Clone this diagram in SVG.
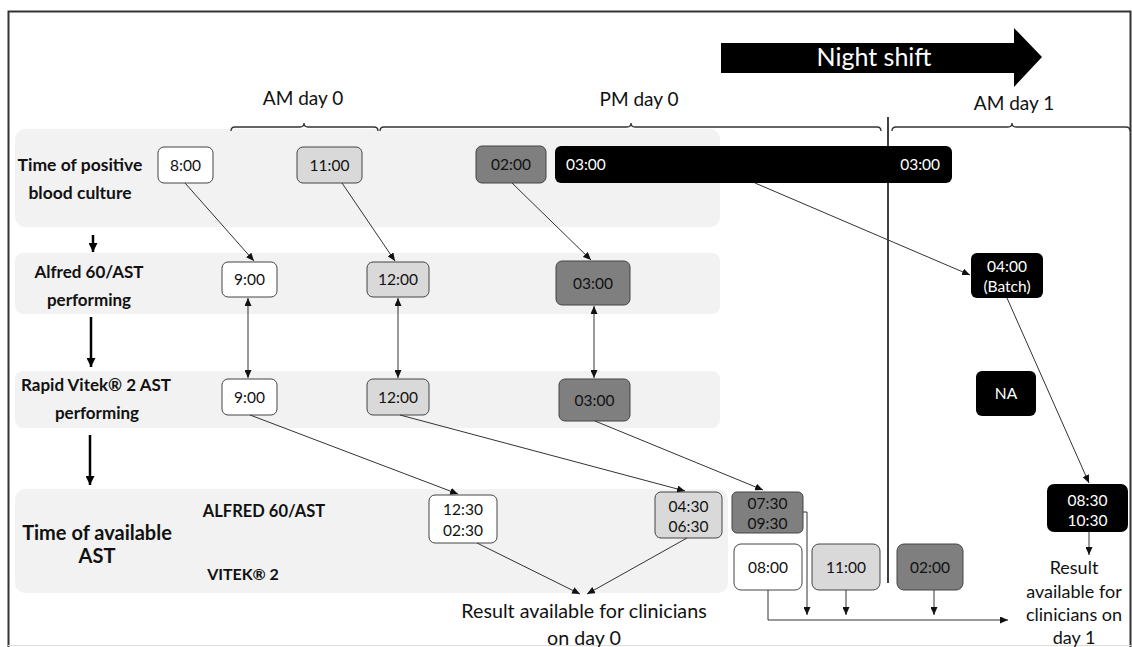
<svg xmlns="http://www.w3.org/2000/svg" width="1132" height="647" viewBox="0 0 1132 647">
<defs>
<style>
.band{fill:#f2f2f2}
.bw{fill:#fff;stroke:#444;stroke-width:1}
.bl{fill:#d9d9d9;stroke:#444;stroke-width:1}
.bd{fill:#7f7f7f;stroke:#444;stroke-width:1}
.bk{fill:#000}
.t{font-family:Lato,"Liberation Sans",sans-serif;font-size:15.5px;text-anchor:middle;fill:#111}
.tw{font-family:Lato,"Liberation Sans",sans-serif;font-size:15.5px;text-anchor:middle;fill:#fff}
.lab{font-family:Lato,"Liberation Sans",sans-serif;font-size:17px;font-weight:bold;text-anchor:middle;fill:#111}
.big{font-family:Lato,"Liberation Sans",sans-serif;font-size:19px;text-anchor:middle;fill:#111}
.res{font-family:Lato,"Liberation Sans",sans-serif;font-size:18px;text-anchor:middle;fill:#111}
.c{fill:none;stroke:#333;stroke-width:1}
.thick{fill:none;stroke:#000;stroke-width:2.5}
.brk{fill:none;stroke:#333;stroke-width:1.3}
</style>
<marker id="ah" viewBox="0 0 8 7" markerWidth="8" markerHeight="7" refX="8" refY="3.5" orient="auto-start-reverse" markerUnits="userSpaceOnUse"><path d="M0,0 L8,3.5 L0,7 z" fill="#111"/></marker>
<marker id="ahb" viewBox="0 0 8 8" markerWidth="9" markerHeight="9" refX="8" refY="4" orient="auto" markerUnits="userSpaceOnUse"><path d="M0,0 L8,4 L0,8 z" fill="#000"/></marker>
</defs>
<rect x="0" y="0" width="1132" height="647" fill="#fff"/>
<path d="M8.5,647 V11.5 H1130.5 V647" fill="none" stroke="#333" stroke-width="2"/>
<line x1="8" y1="645.5" x2="1131" y2="645.5" stroke="#ddd" stroke-width="1"/>

<g id="bands">
<rect class="band" x="15" y="129" width="705" height="98" rx="10"/>
<rect class="band" x="15" y="253" width="705" height="61" rx="8"/>
<rect class="band" x="15" y="371" width="705" height="57" rx="8"/>
<rect class="band" x="15" y="489" width="713" height="104" rx="10"/>
</g>

<g id="night-shift">
<polygon points="721,43 1014,43 1014,28 1042,57 1014,87 1014,73 721,73" fill="#000"/>
<text x="874" y="66" font-family="Lato,'Liberation Sans',sans-serif" font-size="25" fill="#fff" text-anchor="middle">Night shift</text>
</g>

<g id="periods">
<text class="big" x="303" y="105">AM day 0</text>
<text class="big" x="639" y="106">PM day 0</text>
<text class="big" x="1014" y="110">AM day 1</text>
<path class="brk" d="M231,131 Q231,127 235,127 H300 Q304,127 304,123 Q304,127 308,127 H374 Q378,127 378,131"/>
<path class="brk" d="M380,131 Q380,127 384,127 H627 Q631,127 631,123 Q631,127 635,127 H877 Q881,127 881,131"/>
<path class="brk" d="M892,131 Q892,127 896,127 H1008 Q1012,127 1012,123 Q1012,127 1016,127 H1126 Q1130,127 1130,131"/>
<line x1="888" y1="117" x2="888" y2="583" stroke="#111" stroke-width="1.6"/>
</g>

<g id="row-labels">
<text class="lab" x="80" y="171" style="font-size:17.5px">Time of positive</text>
<text class="lab" x="80" y="199" style="font-size:17.5px">blood culture</text>
<text class="lab" x="89" y="278">Alfred 60/AST</text>
<text class="lab" x="89" y="306">performing</text>
<text class="lab" x="96" y="391">Rapid Vitek® 2 AST</text>
<text class="lab" x="97" y="419">performing</text>
<text class="lab" x="97" y="540" style="font-size:20px">Time of available</text>
<text class="lab" x="97" y="563" style="font-size:20px">AST</text>
<text class="lab" x="264" y="517" style="font-size:16.5px">ALFRED 60/AST</text>
<text class="lab" x="243" y="580" style="font-size:16px">VITEK® 2</text>
</g>

<g id="flow-arrows">
<line class="thick" x1="93" y1="235" x2="93" y2="252" marker-end="url(#ahb)"/>
<line class="thick" x1="91" y1="317" x2="91" y2="367" marker-end="url(#ahb)"/>
<line class="thick" x1="90" y1="435" x2="90" y2="485" marker-end="url(#ahb)"/>
</g>

<g id="n-800"><rect class="bw" x="158" y="147" width="55" height="36" rx="6"/><text class="t" x="185.5" y="171">8:00</text></g>
<g id="n-1100"><rect class="bl" x="297" y="147" width="65" height="36" rx="6"/><text class="t" x="329.5" y="171">11:00</text></g>
<g id="n-0200"><rect class="bd" x="476" y="146" width="70" height="37" rx="6"/><text class="t" x="511" y="170">02:00</text></g>
<g id="n-0300bar"><rect class="bk" x="555" y="146" width="397" height="37" rx="6"/><text class="tw" x="566" y="170" style="text-anchor:start">03:00</text><text class="tw" x="940" y="170" style="text-anchor:end">03:00</text></g>

<g id="n-a900"><rect class="bw" x="222" y="262" width="55" height="35" rx="6"/><text class="t" x="249.5" y="285">9:00</text></g>
<g id="n-a1200"><rect class="bl" x="367" y="262" width="62" height="35" rx="6"/><text class="t" x="398" y="285">12:00</text></g>
<g id="n-a0300"><rect class="bd" x="556" y="261" width="74" height="44" rx="6"/><text class="t" x="593" y="289">03:00</text></g>
<g id="n-a0400"><rect class="bk" x="971" y="253" width="72" height="45" rx="6"/><text class="tw" x="1007" y="272">04:00</text><text class="tw" x="1007" y="292">(Batch)</text></g>

<g id="n-v900"><rect class="bw" x="222" y="379" width="55" height="36" rx="6"/><text class="t" x="249.5" y="403">9:00</text></g>
<g id="n-v1200"><rect class="bl" x="367" y="379" width="62" height="36" rx="6"/><text class="t" x="398" y="403">12:00</text></g>
<g id="n-v0300"><rect class="bd" x="559" y="379" width="71" height="42" rx="6"/><text class="t" x="594.5" y="406">03:00</text></g>
<g id="n-na"><rect class="bk" x="976" y="371" width="60" height="45" rx="6"/><text class="tw" x="1006" y="399">NA</text></g>

<g id="n-1230"><rect class="bw" x="429" y="495" width="68" height="48" rx="6"/><text class="t" x="463" y="515">12:30</text><text class="t" x="463" y="536">02:30</text></g>
<g id="n-0430"><rect class="bl" x="655" y="492" width="67" height="46" rx="6"/><text class="t" x="688.5" y="512">04:30</text><text class="t" x="688.5" y="532">06:30</text></g>
<g id="n-0730"><rect class="bd" x="732" y="492" width="71" height="41" rx="5"/><text class="t" x="767.5" y="509">07:30</text><text class="t" x="767.5" y="529">09:30</text></g>
<g id="n-0800"><rect class="bw" x="734" y="544" width="68" height="46" rx="7"/><text class="t" x="768" y="573">08:00</text></g>
<g id="n-1100b"><rect class="bl" x="812" y="544" width="68" height="46" rx="7"/><text class="t" x="846" y="573">11:00</text></g>
<g id="n-0200b"><rect class="bd" x="897" y="544" width="66" height="46" rx="7"/><text class="t" x="930" y="573">02:00</text></g>
<g id="n-0830"><rect class="bk" x="1047" y="484" width="81" height="48" rx="7"/><text class="tw" x="1087.5" y="506">08:30</text><text class="tw" x="1087.5" y="526">10:30</text></g>

<g id="result-day0">
<text class="res" x="584" y="618" style="font-size:19.7px">Result available for clinicians</text>
<text class="res" x="584" y="645" style="font-size:19.7px">on day 0</text>
</g>
<g id="result-day1">
<text class="res" x="1074" y="574">Result</text>
<text class="res" x="1074" y="598">available for</text>
<text class="res" x="1074" y="621">clinicians on</text>
<text class="res" x="1074" y="644">day 1</text>
</g>

<g id="connectors">
<line class="c" x1="185" y1="183" x2="254" y2="261" marker-end="url(#ah)"/>
<line class="c" x1="342" y1="183" x2="395" y2="261" marker-end="url(#ah)"/>
<line class="c" x1="512" y1="183" x2="591" y2="260" marker-end="url(#ah)"/>
<line class="c" x1="755" y1="183" x2="970" y2="275" marker-end="url(#ah)"/>
<line class="c" x1="248" y1="298" x2="248" y2="378" marker-start="url(#ah)" marker-end="url(#ah)"/>
<line class="c" x1="398" y1="298" x2="398" y2="378" marker-start="url(#ah)" marker-end="url(#ah)"/>
<line class="c" x1="594" y1="306" x2="594" y2="378" marker-start="url(#ah)" marker-end="url(#ah)"/>
<line class="c" x1="250" y1="415" x2="458" y2="494" marker-end="url(#ah)"/>
<line class="c" x1="400" y1="415" x2="685" y2="491" marker-end="url(#ah)"/>
<line class="c" x1="595" y1="421" x2="763" y2="490" marker-end="url(#ah)"/>
<line class="c" x1="1007" y1="298" x2="1089" y2="483" marker-end="url(#ah)"/>
<line class="c" x1="477" y1="543" x2="580" y2="594" marker-end="url(#ah)"/>
<line class="c" x1="687" y1="538" x2="587" y2="594" marker-end="url(#ah)"/>
<path class="c" d="M803,512 H807 V615" marker-end="url(#ah)"/>
<line class="c" x1="846" y1="590" x2="846" y2="615" marker-end="url(#ah)"/>
<line class="c" x1="934" y1="590" x2="934" y2="615" marker-end="url(#ah)"/>
<path class="c" d="M768,590 V620 H1008" marker-end="url(#ah)"/>
<line class="c" x1="1089" y1="532" x2="1089" y2="555" marker-end="url(#ah)"/>
</g>
</svg>
